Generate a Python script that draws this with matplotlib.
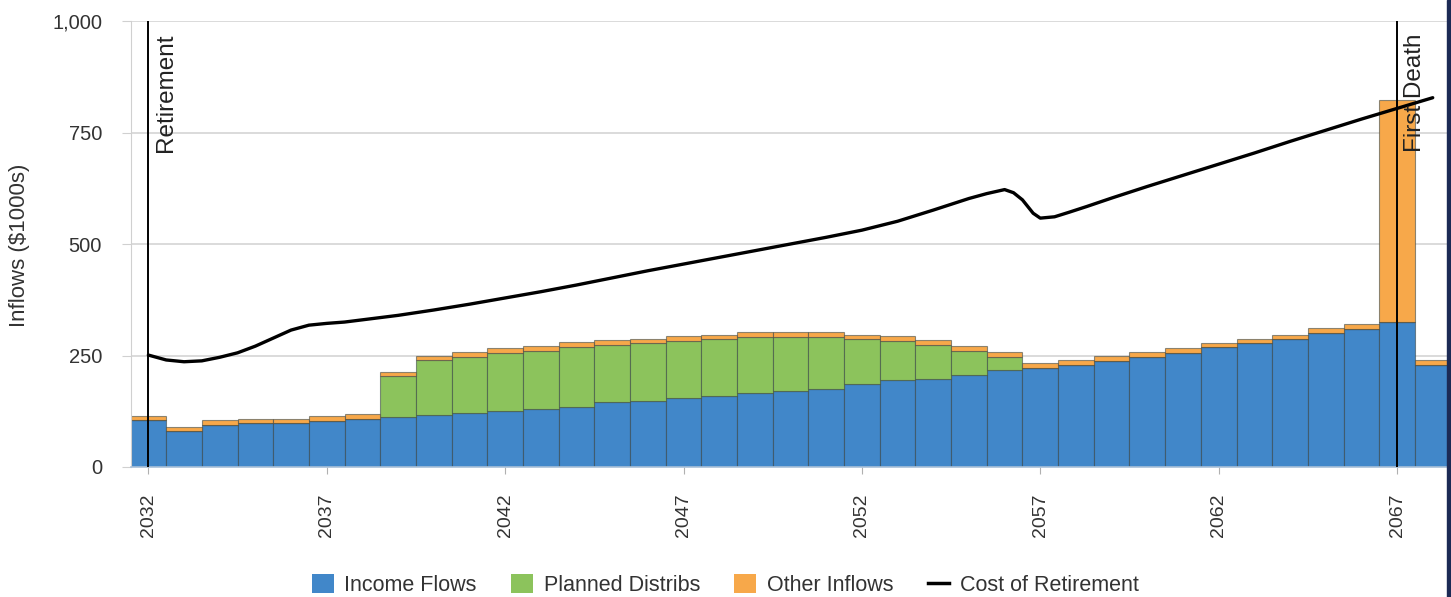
import numpy as np
import matplotlib
matplotlib.use("Agg")
import matplotlib.pyplot as plt
from matplotlib.patches import Patch, Rectangle
from matplotlib.lines import Line2D

plt.rcParams["font.family"] = ["Liberation Sans", "DejaVu Sans"]

years = np.arange(2032, 2069)

income = [105, 81, 95, 98, 98, 104, 108, 113, 117, 121, 126, 130, 135, 145, 149,
          154, 159, 167, 171, 176, 186, 194, 198, 207, 217, 222, 229, 238, 247, 256,
          268, 277, 286, 301, 309, 324, 229]
planned = [0, 0, 0, 0, 0, 0, 0, 90, 122, 126, 130, 130, 134, 129, 128,
           128, 128, 125, 121, 116, 100, 88, 76, 53, 29, 0, 0, 0, 0, 0,
           0, 0, 0, 0, 0, 0, 0]
other = [10, 9, 10, 10, 10, 10, 10, 10, 10, 10, 10, 11, 11, 10, 11,
         11, 10, 10, 10, 10, 11, 12, 11, 11, 11, 12, 11, 10, 10, 10,
         11, 11, 11, 10, 12, 499, 11]

cost_x = [2032, 2032.5, 2033, 2033.5, 2034, 2034.5, 2035, 2035.5, 2036, 2036.5,
          2037, 2037.5, 2038, 2039, 2040, 2041, 2042, 2043, 2044, 2045, 2046,
          2047, 2048, 2049, 2050, 2051, 2052, 2053, 2054, 2055, 2055.5, 2056,
          2056.25, 2056.5, 2056.8, 2057, 2057.4, 2057.8, 2058.3, 2059, 2060, 2061,
          2062, 2063, 2064, 2065, 2066, 2067, 2068]
cost_y = [251, 240, 236, 238, 246, 256, 271, 289, 307, 318,
          322, 325, 330, 340, 352, 365, 379, 393, 408, 424, 440,
          455, 470, 485, 500, 515, 531, 551, 576, 602, 613, 622,
          615, 599, 569, 558, 561, 571, 584, 603, 629, 654,
          679, 704, 730, 755, 780, 804, 828]

events = [(2032, "Retirement"), (2067, "First Death")]

c_income = "#4187c9"
c_planned = "#8cc35c"
c_other = "#f7a84a"

fig = plt.figure(figsize=(14.51, 5.97), dpi=100)
ax = fig.add_axes([130.5 / 1451, 1 - 467 / 597, (1447 - 130.5) / 1451, 446 / 597])

income = np.array(income)
planned = np.array(planned)
other = np.array(other)
edge = (0.2, 0.25, 0.25, 0.55)

ax.bar(years, income, width=1.0, color=c_income, edgecolor=edge, linewidth=0.8, zorder=2)
ax.bar(years, planned, width=1.0, bottom=income, color=c_planned, edgecolor=edge,
       linewidth=0.8, zorder=2)
ax.bar(years, other, width=1.0, bottom=income + planned, color=c_other, edgecolor=edge,
       linewidth=0.8, zorder=2)

ax.plot(cost_x, cost_y, color="black", lw=2.4, zorder=4, solid_capstyle="round",
        solid_joinstyle="round")

for yr, label in events:
    ax.axvline(yr, color="black", lw=1.4, zorder=5)
    ax.annotate(label, xy=(yr, 1000), xytext=(5, -9), textcoords="offset points",
                rotation=90, ha="left", va="top", fontsize=17.5, color="#222222",
                zorder=6)

ax.set_xlim(2031.5, 2068.4)
ax.set_ylim(0, 1000)
ax.set_yticks([0, 250, 500, 750, 1000])
ax.set_yticklabels(["0", "250", "500", "750", "1,000"])
ax.set_xticks(np.arange(2032, 2069, 5))
ax.tick_params(axis="x", labelrotation=90, length=5, color="#b0b0b0", pad=14,
               labelsize=14, labelcolor="#333333")
ax.tick_params(axis="y", length=6.5, color="#d0d0d0", pad=14, labelsize=14.5,
               labelcolor="#333333")
ax.yaxis.grid(True, color="#d4d4d4", lw=1.2, zorder=0)
ax.set_axisbelow(True)
for s in ["top", "right"]:
    ax.spines[s].set_visible(False)
ax.spines["left"].set_color("#d0d0d0")
ax.spines["bottom"].set_color("#a8c0d8")
ax.spines["bottom"].set_linewidth(1.2)

fig.text(20 / 1451, 1 - 245 / 597, "Inflows ($1000s)", rotation=90, ha="center",
         va="center", fontsize=16, color="#333333")

handles = [Patch(facecolor=c_income, edgecolor="none"),
           Patch(facecolor=c_planned, edgecolor="none"),
           Patch(facecolor=c_other, edgecolor="none"),
           Line2D([0], [0], color="black", lw=2.5)]
fig.legend(handles, ["Income Flows", "Planned Distribs", "Other Inflows", "Cost of Retirement"],
           loc="center", bbox_to_anchor=(0.5, 1 - 585 / 597), ncol=4, frameon=False,
           fontsize=15.5, handlelength=1.0, handleheight=1.0, handletextpad=0.5,
           columnspacing=1.6, labelcolor="#333333")

fig.patches.append(Rectangle((1447 / 1451, 0), 4 / 1451, 1, transform=fig.transFigure,
                             color="#1c2a55", zorder=10))

fig.savefig("out.png", dpi=100)
